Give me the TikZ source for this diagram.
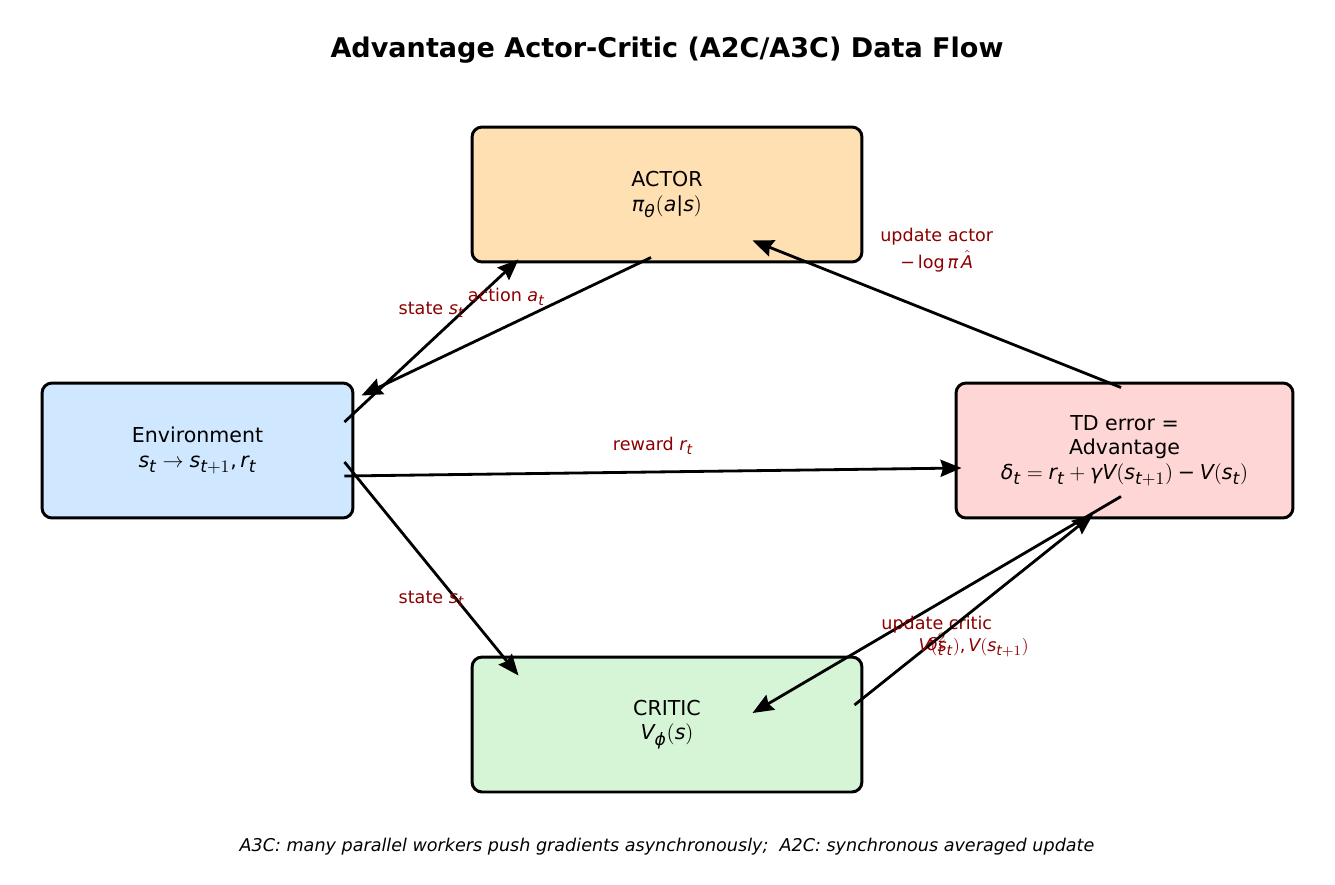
\documentclass[tikz,border=0pt]{standalone}
\usepackage{amsmath}
\usepackage{fontspec}
\setmainfont{DejaVu Sans}
\usepackage[italic,noendash]{mathastext}
\usetikzlibrary{arrows.meta,positioning,calc}
\definecolor{envblue}{HTML}{D0E8FF}
\definecolor{actorange}{HTML}{FFE0B2}
\definecolor{tdpink}{HTML}{FFD6D6}
\definecolor{criticgreen}{HTML}{D6F5D6}
\definecolor{lblred}{HTML}{8B0000}
\newcommand{\gk}[1]{\text{\itshape #1}}
\newcommand{\mmin}{\text{\char"2212}}

\begin{document}
\begin{tikzpicture}[
  x=0.02cm, y=-0.02cm,
  block/.style={rectangle, draw, line width=1.7pt, rounded corners=0.2cm, inner sep=0pt,
    align=center, font=\fontsize{11.7}{14}\selectfont},
  arrow/.style={-{Stealth[length=0.42cm,width=0.34cm,inset=0.05cm]}, line width=1.6pt},
  lbl/.style={text=lblred, font=\fontsize{10}{12}\selectfont, align=center}
]
\path[use as bounding box] (0,0) rectangle (1335,885);

\node[font=\bfseries\fontsize{15.4}{18}\selectfont] (title) at (667,50)
  {Advantage Actor-Critic (A2C/A3C) Data Flow};

\node[block, fill=actorange, minimum width=7.8cm, minimum height=2.7cm] (actor) at (667,194.5)
  {ACTOR\\$\gk{π}_{\gk{θ}}(a|s)$};
\node[block, fill=envblue, minimum width=6.22cm, minimum height=2.7cm] (env) at (197.5,450.5)
  {Environment\\$s_t \to s_{t+1}, r_t$};
\node[block, fill=tdpink, minimum width=6.74cm, minimum height=2.7cm] (tderr) at (1124.5,450.5)
  {TD error =\\Advantage\\$\gk{δ}_t = r_t + \gk{γ} V(s_{t+1}) \mathbin{\mmin} V(s_t)$};
\node[block, fill=criticgreen, minimum width=7.8cm, minimum height=2.7cm] (critic) at (667,724.5)
  {CRITIC\\$V_{\gk{ϕ}}(s)$};

\draw[arrow] ([shift={(-10,-28.5)}]env.east) -- ([shift={(48,-4)}]actor.south west)
  node[lbl, midway, yshift=0.62cm] {state $s_t$};
\draw[arrow] ([shift={(-16,-6)}]actor.south) -- ([shift={(7,14)}]env.north east)
  node[lbl, midway, yshift=0.6cm] {action $a_t$};
\draw[arrow] ([shift={(-10,25.5)}]env.east) -- ([shift={(7,17.5)}]tderr.west)
  node[lbl, midway, yshift=0.52cm] {reward $r_t$};
\draw[arrow] ([shift={(-10,11.5)}]env.east) -- ([shift={(48,20)}]critic.north west)
  node[lbl, midway, yshift=-0.6cm] {state $s_t$};
\draw[arrow] ([shift={(-3.5,6)}]tderr.north) -- ([shift={(-111,-23)}]actor.south east)
  node[lbl, midway, yshift=1.28cm] {update actor\\[2pt]$\mmin\log\gk{π}\,\hat{A}$};
\draw[arrow] ([shift={(-3.5,-23)}]tderr.south) -- ([shift={(-111,-11.5)}]critic.east)
  node[lbl, midway, yshift=-0.62cm] {update critic\\$\gk{δ}_t^2$};
\draw[arrow] ([shift={(-9,-19.5)}]critic.east) -- ([shift={(-31.5,-5)}]tderr.south)
  node[lbl, midway, yshift=-0.76cm] {$V(s_t), V(s_{t+1})$};

\node[font=\itshape\fontsize{10}{12}\selectfont] (note) at (667,847)
  {A3C: many parallel workers push gradients asynchronously;\ \ A2C: synchronous averaged update};
\end{tikzpicture}
\end{document}
